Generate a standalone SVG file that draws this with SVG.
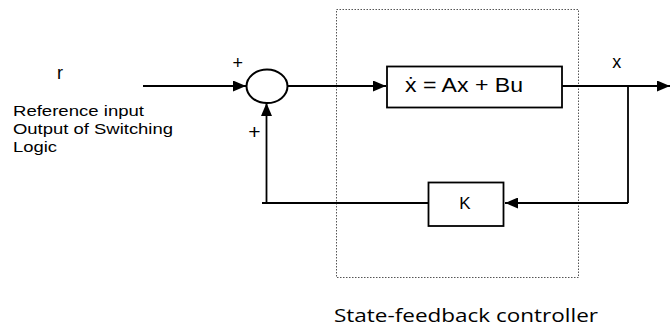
<svg xmlns="http://www.w3.org/2000/svg" width="670" height="330" viewBox="0 0 670 330">
<defs>
<style>
.ln{stroke:#000;stroke-width:1.8;fill:none}
.box{stroke:#000;stroke-width:1.8;fill:#fff}
.t{font-family:"Liberation Sans",Arial,sans-serif;fill:#000}
.c{font-family:"Open Sans","Noto Sans",sans-serif;fill:#000}
</style>
<marker id="ah" viewBox="0 0 13 11" refX="13" refY="5.5" markerWidth="13" markerHeight="11" markerUnits="userSpaceOnUse" orient="auto">
<path d="M0,0 L13,5.5 L0,11 Z" fill="#000"/>
</marker>
</defs>
<rect id="controller" x="336.5" y="9.5" width="242" height="268" fill="none" stroke="#555" stroke-width="1" stroke-dasharray="1.5,1.5"/>
<g id="connectors">
<line class="ln" x1="143" y1="86" x2="246" y2="86" marker-end="url(#ah)"/>
<line class="ln" x1="288" y1="86" x2="386" y2="86" marker-end="url(#ah)"/>
<line class="ln" x1="562" y1="86" x2="670" y2="86" marker-end="url(#ah)"/>
<line class="ln" x1="628" y1="86" x2="628" y2="203"/>
<line class="ln" x1="628" y1="203" x2="505" y2="203" marker-end="url(#ah)"/>
<line class="ln" x1="428" y1="203" x2="262" y2="203" stroke="#333"/>
<line class="ln" x1="266.5" y1="203" x2="266.5" y2="103" marker-end="url(#ah)"/>
</g>
<g id="summer">
<ellipse cx="267" cy="86.3" rx="20.5" ry="16.8" fill="#fff" stroke="#000" stroke-width="2"/>
</g>
<g id="plant">
<rect class="box" x="387" y="66.5" width="175" height="41"/>
<text class="t" x="405" y="92" font-size="21" textLength="118" lengthAdjust="spacingAndGlyphs">ẋ = Ax + Bu</text>
</g>
<g id="gain">
<rect class="box" x="428.5" y="182.5" width="75" height="43.5"/>
<text class="t" x="465" y="208.5" font-size="17" text-anchor="middle">K</text>
</g>
<g id="labels">
<text class="t" x="57" y="79" font-size="18">r</text>
<text class="t" x="13" y="116" font-size="15.5" textLength="131" lengthAdjust="spacingAndGlyphs">Reference input</text>
<text class="t" x="13" y="134" font-size="15.5" textLength="160" lengthAdjust="spacingAndGlyphs">Output of Switching</text>
<text class="t" x="13" y="152" font-size="15.5" textLength="44" lengthAdjust="spacingAndGlyphs">Logic</text>
<text class="t" x="237.7" y="69" font-size="18" text-anchor="middle">+</text>
<text class="t" x="254.4" y="138.5" font-size="21" text-anchor="middle">+</text>
<text class="t" x="616.7" y="68" font-size="18" text-anchor="middle">x</text>
<text class="c" x="334" y="322" font-size="19" textLength="264" lengthAdjust="spacingAndGlyphs">State-feedback controller</text>
</g>
</svg>
